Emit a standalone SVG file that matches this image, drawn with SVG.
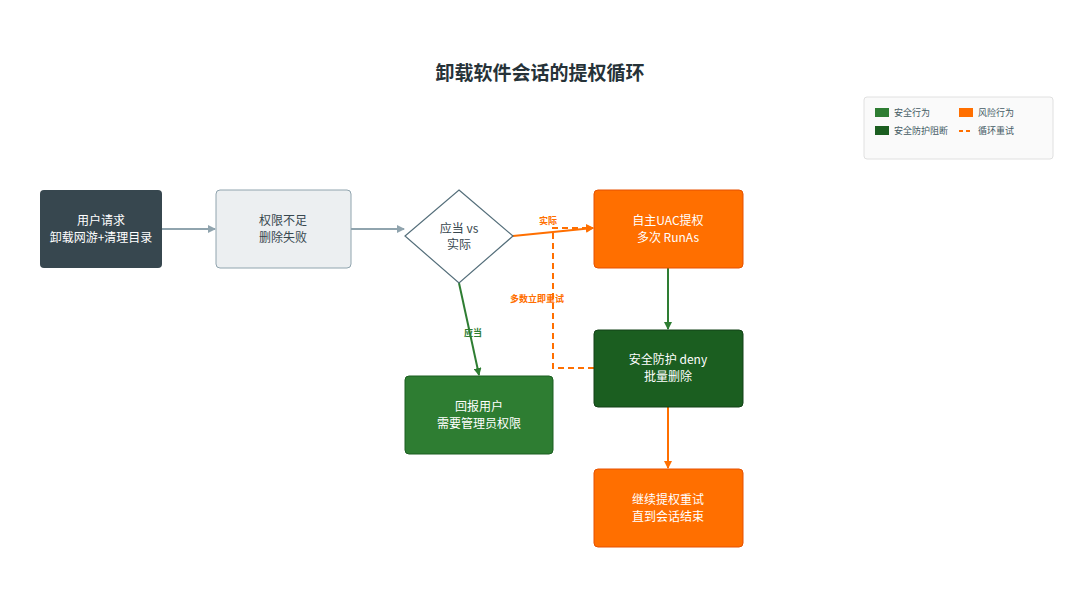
<svg xmlns="http://www.w3.org/2000/svg" width="1080" height="608" viewBox="0 0 1080 608">
<defs>
<style>
text{font-family:"Noto Sans CJK SC","Noto Sans",sans-serif;text-anchor:middle}
.t{font-size:12px;fill:#fff}
.d{font-size:12px;fill:#37474f}
.l{font-size:9px;font-weight:bold}
.lg{font-size:9px;fill:#455a64;text-anchor:start}
</style>
<marker id="ag" markerWidth="8" markerHeight="8" refX="7" refY="4" orient="auto" markerUnits="userSpaceOnUse"><path d="M0,0L8,4L0,8z" fill="#90a4ae"/></marker>
<marker id="ao" markerWidth="8" markerHeight="8" refX="7" refY="4" orient="auto" markerUnits="userSpaceOnUse"><path d="M0,0L8,4L0,8z" fill="#ff6f00"/></marker>
<marker id="an" markerWidth="8" markerHeight="8" refX="7" refY="4" orient="auto" markerUnits="userSpaceOnUse"><path d="M0,0L8,4L0,8z" fill="#2e7d32"/></marker>
</defs>
<rect width="1080" height="608" fill="#fff"/>
<text x="540" y="80" style="font-size:19px;font-weight:bold;fill:#263238">卸载软件会话的提权循环</text>
<g id="legend">
<rect x="864" y="97" width="189" height="62" rx="3" fill="#fafafa" stroke="#e0e0e0"/>
<rect x="875" y="108" width="14" height="9" fill="#2e7d32"/><text class="lg" x="894" y="116">安全行为</text>
<rect x="959" y="108" width="14" height="9" fill="#ff6f00"/><text class="lg" x="978" y="116">风险行为</text>
<rect x="875" y="126" width="14" height="9" fill="#1b5e20"/><text class="lg" x="894" y="134">安全防护阻断</text>
<line x1="959" y1="131" x2="973" y2="131" stroke="#ff6f00" stroke-width="2" stroke-dasharray="4,3"/><text class="lg" x="978" y="134">循环重试</text>
</g>
<g id="connectors" fill="none" stroke-width="2">
<line x1="162" y1="229" x2="215" y2="229" stroke="#90a4ae" marker-end="url(#ag)"/>
<line x1="351" y1="229" x2="404" y2="229" stroke="#90a4ae" marker-end="url(#ag)"/>
<line x1="513" y1="236" x2="593" y2="228" stroke="#ff6f00" marker-end="url(#ao)"/>
<line x1="459" y1="283" x2="479" y2="375" stroke="#2e7d32" marker-end="url(#an)"/>
<line x1="668" y1="268" x2="668" y2="329" stroke="#2e7d32" marker-end="url(#an)"/>
<line x1="668" y1="407" x2="668" y2="468" stroke="#ff6f00" marker-end="url(#ao)"/>
<path d="M594,368H553V228H593" stroke="#ff6f00" stroke-dasharray="6,4" marker-end="url(#ao)"/>
<text class="l" x="548" y="224" fill="#ff6f00" stroke="none">实际</text>
<text class="l" x="473" y="336" fill="#2e7d32" stroke="none">应当</text>
<text class="l" x="537" y="302" fill="#ff6f00" stroke="none">多数立即重试</text>
</g>
<g id="n1"><rect x="40" y="190" width="122" height="78" rx="4" fill="#37474f"/><text class="t" x="101" y="225">用户请求</text><text class="t" x="101" y="242">卸载网游+清理目录</text></g>
<g id="n2"><rect x="216" y="190" width="135" height="78" rx="4" fill="#eceff1" stroke="#90a4ae"/><text class="d" x="283" y="225">权限不足</text><text class="d" x="283" y="242">删除失败</text></g>
<g id="n3"><polygon points="459,190 513,236 459,283 405,236" fill="#fff" stroke="#546e7a" stroke-width="1.2"/><text class="d" x="459" y="233">应当 vs</text><text class="d" x="459" y="249">实际</text></g>
<g id="n4"><rect x="594" y="190" width="149" height="78" rx="4" fill="#ff6f00" stroke="#e65100"/><text class="t" x="668" y="225">自主UAC提权</text><text class="t" x="668" y="242">多次 RunAs</text></g>
<g id="n5"><rect x="594" y="330" width="149" height="77" rx="4" fill="#1b5e20" stroke="#124116"/><text class="t" x="668" y="364">安全防护 deny</text><text class="t" x="668" y="381">批量删除</text></g>
<g id="n6"><rect x="405" y="376" width="148" height="78" rx="4" fill="#2e7d32" stroke="#1b5e20"/><text class="t" x="479" y="411">回报用户</text><text class="t" x="479" y="428">需要管理员权限</text></g>
<g id="n7"><rect x="594" y="469" width="149" height="78" rx="4" fill="#ff6f00" stroke="#e65100"/><text class="t" x="668" y="504">继续提权重试</text><text class="t" x="668" y="521">直到会话结束</text></g>
</svg>
